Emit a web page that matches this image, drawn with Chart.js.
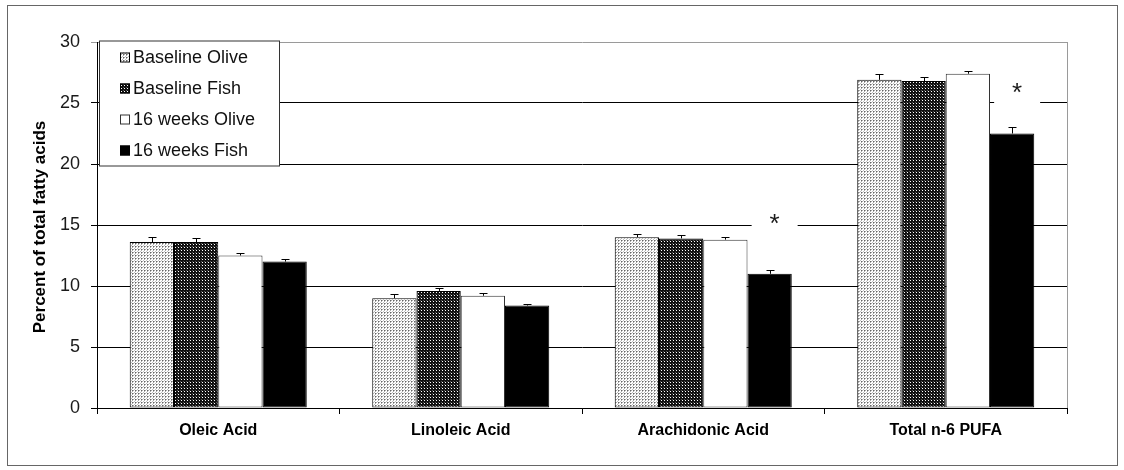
<!DOCTYPE html>
<html>
<head>
<meta charset="utf-8">
<style>
  html, body { margin: 0; padding: 0; background: #fff; }
  #wrap { width: 1124px; height: 470px; }
</style>
<script src="https://cdn.jsdelivr.net/npm/chart.js@4/dist/chart.umd.min.js"></script>
</head>
<body>
<div id="wrap"><canvas id="chart" width="1124" height="470"></canvas></div>
<script>
// Fatty acid composition, percent of total fatty acids (mean + SEM)
const categories = ['Oleic Acid', 'Linoleic Acid', 'Arachidonic Acid', 'Total n-6 PUFA'];
const seriesLabels = ['Baseline Olive', 'Baseline Fish', '16 weeks Olive', '16 weeks Fish'];

const baselineOlive = [13.6, 9.0, 14.0, 26.9];
const baselineFish  = [13.6, 9.6, 13.9, 26.8];
const weeks16Olive  = [12.5, 9.2, 13.8, 27.4];
const weeks16Fish   = [12.0, 8.4, 11.0, 22.5];

const semBaselineOlive = [0.45, 0.35, 0.3, 0.45];
const semBaselineFish  = [0.35, 0.2, 0.3, 0.3];
const semWeeks16Olive  = [0.2, 0.2, 0.25, 0.2];
const semWeeks16Fish   = [0.2, 0.15, 0.3, 0.5];

// significant change in the 16 weeks Fish group, and the level where the mark sits
const significance16Fish = [null, null, '*', '*'];
const significanceLevel  = [null, null, 15.6, 26.3];

const yTicks = [0, 5, 10, 15, 20, 25, 30];

const FONT = "'Liberation Sans', Arial, sans-serif";

function patternOn(ctx, size, bg, dots) {
  const c = document.createElement('canvas');
  c.width = size; c.height = size;
  const g = c.getContext('2d');
  g.fillStyle = bg;
  g.fillRect(0, 0, size, size);
  dots.forEach(([x, y, col]) => { g.fillStyle = col; g.fillRect(x, y, 1, 1); });
  return ctx.createPattern(c, 'repeat');
}

const canvas = document.getElementById('chart');
const ctx0 = canvas.getContext('2d');

const olivePattern = patternOn(ctx0, 3, '#ffffff', [[0, 0, '#666666'], [1, 0, '#aaaaaa'], [0, 1, '#aaaaaa'], [2, 2, '#c0c0c0']]);
const fishPattern = patternOn(ctx0, 3, '#111111', [[1, 1, '#ffffff'], [0, 0, '#555555']]);

const fills = [olivePattern, fishPattern, '#ffffff', '#000000'];
const borders = ['#000000', '#000000', '#333333', '#000000'];
const values = [baselineOlive, baselineFish, weeks16Olive, weeks16Fish];
const sems = [semBaselineOlive, semBaselineFish, semWeeks16Olive, semWeeks16Fish];

const datasets = seriesLabels.map((label, i) => ({
  label,
  data: values[i],
  sem: sems[i],
  backgroundColor: fills[i],
  borderColor: borders[i],
  borderWidth: 1,
  borderSkipped: false,
  categoryPercentage: 0.73,
  barPercentage: 1.0
}));

// frame around the figure and the grey plot-area edge
const framePlugin = {
  id: 'frame',
  beforeDraw(chart) {
    const c = chart.ctx;
    c.save();
    c.fillStyle = '#ffffff';
    c.fillRect(0, 0, chart.width, chart.height);
    c.strokeStyle = '#666666';
    c.lineWidth = 1;
    c.strokeRect(7.5, 5.5, 1110, 460);
    c.restore();
  },
  afterDraw(chart) {
    const a = chart.chartArea;
    const c = chart.ctx;
    c.save();
    c.strokeStyle = '#9a9a9a';
    c.lineWidth = 1;
    c.beginPath();
    c.moveTo(Math.round(a.right) + 0.5, a.top);
    c.lineTo(Math.round(a.right) + 0.5, a.bottom);
    c.stroke();
    c.restore();
  }
};

// significance asterisks with a white label box
const significancePlugin = {
  id: 'significance',
  beforeDatasetsDraw(chart) {
    const meta = chart.getDatasetMeta(3);
    const y = chart.scales.y;
    const c = chart.ctx;
    c.save();
    significance16Fish.forEach((s, i) => {
      if (!s) return;
      const bx = meta.data[i].x + 5;
      const by = y.getPixelForValue(significanceLevel[i]);
      c.fillStyle = '#ffffff';
      c.fillRect(bx - 23, by - 14, 46, 32);
      c.fillStyle = '#1a1a1a';
      c.font = '26px ' + FONT;
      c.textAlign = 'center';
      c.textBaseline = 'middle';
      c.fillText(s, bx, by + 7);
    });
    c.restore();
  }
};

// upper error bars (SEM)
const errorBarPlugin = {
  id: 'errorBars',
  afterDatasetsDraw(chart) {
    const c = chart.ctx;
    const y = chart.scales.y;
    c.save();
    c.strokeStyle = '#000000';
    c.lineWidth = 1;
    chart.data.datasets.forEach((ds, di) => {
      const meta = chart.getDatasetMeta(di);
      meta.data.forEach((bar, i) => {
        const x = Math.round(bar.x) + 0.5;
        const top = Math.round(y.getPixelForValue(ds.data[i] + ds.sem[i])) + 0.5;
        const base = y.getPixelForValue(ds.data[i]);
        c.beginPath();
        c.moveTo(x, base);
        c.lineTo(x, top);
        c.moveTo(x - 4, top);
        c.lineTo(x + 4, top);
        c.stroke();
      });
    });
    c.restore();
  }
};

// legend box drawn inside the plot area
const legendPlugin = {
  id: 'boxLegend',
  afterDraw(chart) {
    const c = chart.ctx;
    const a = chart.chartArea;
    const left = a.left + 2, top = a.top - 1.5;
    c.save();
    c.fillStyle = '#ffffff';
    c.fillRect(left + 0.5, top + 0.5, 180, 125);
    c.strokeStyle = '#333333';
    c.lineWidth = 1;
    c.strokeRect(left + 0.5, top + 0.5, 180, 125);
    c.font = '18px ' + FONT;
    c.textBaseline = 'middle';
    c.textAlign = 'left';
    chart.data.datasets.forEach((ds, i) => {
      const cy = top + 17 + i * 31;
      c.fillStyle = ds.backgroundColor;
      c.fillRect(left + 21, cy - 5, 10, 10);
      c.strokeStyle = ds.borderColor;
      c.strokeRect(left + 21.5, cy - 4.5, 9, 9);
      c.fillStyle = '#111111';
      c.fillText(ds.label, left + 34, cy + 1);
    });
    c.restore();
  }
};

// rotated y-axis title
const yTitlePlugin = {
  id: 'yTitle',
  afterDraw(chart) {
    const c = chart.ctx;
    const a = chart.chartArea;
    c.save();
    c.translate(40, (a.top + a.bottom) / 2 + 2);
    c.rotate(-Math.PI / 2);
    c.font = 'bold 17px ' + FONT;
    c.fillStyle = '#000000';
    c.textAlign = 'center';
    c.textBaseline = 'middle';
    c.fillText('Percent of total fatty acids', 0, 0);
    c.restore();
  }
};

new Chart(canvas, {
  type: 'bar',
  data: { labels: categories, datasets },
  options: {
    responsive: false,
    devicePixelRatio: 1,
    animation: false,
    layout: { padding: { left: 0, top: 42, right: 57, bottom: 0 } },
    plugins: {
      legend: { display: false },
      tooltip: { enabled: false }
    },
    scales: {
      x: {
        offset: true,
        grid: {
          offset: true,
          drawOnChartArea: false,
          drawTicks: true,
          tickLength: 6,
          color: '#000000'
        },
        border: { display: true, color: '#000000', width: 1 },
        ticks: {
          color: '#000000',
          font: { family: FONT, size: 16, weight: 'bold' },
          padding: 7,
          maxRotation: 0
        },
        afterFit(scale) { scale.height = 62; }
      },
      y: {
        min: 0,
        max: 30,
        afterBuildTicks(scale) { scale.ticks = yTicks.map(v => ({ value: v })); },
        grid: {
          drawOnChartArea: true,
          drawTicks: true,
          tickLength: 6,
          color: (ctx) => (ctx.tick && ctx.tick.value === 30 ? '#9a9a9a' : '#000000'),
          lineWidth: 1
        },
        border: { display: true, color: '#000000', width: 1 },
        ticks: {
          color: '#1a1a1a',
          font: { family: FONT, size: 18 },
          padding: 11
        },
        afterFit(scale) { scale.width = 97; }
      }
    }
  },
  plugins: [framePlugin, significancePlugin, errorBarPlugin, legendPlugin, yTitlePlugin]
});
</script>
</body>
</html>
